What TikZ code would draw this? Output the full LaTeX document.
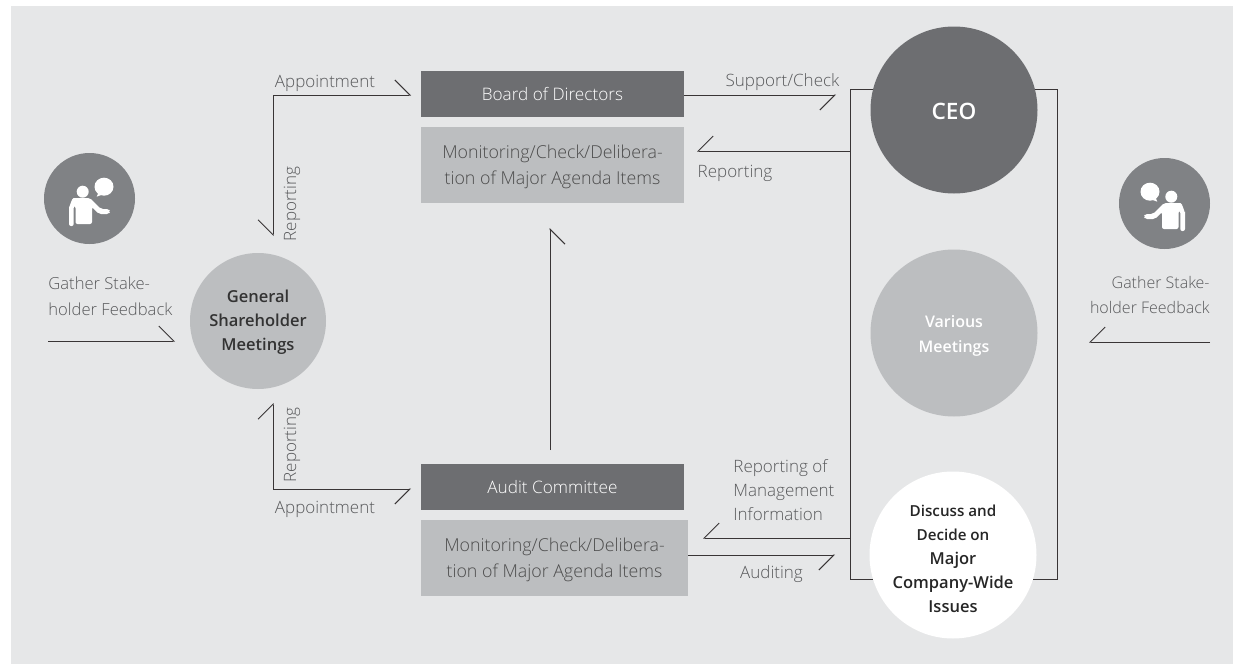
\documentclass[tikz,border=0pt]{standalone}
\usepackage{fontspec}
\setmainfont{Open Sans Light}[BoldFont={Open Sans Semibold}]
\usetikzlibrary{arrows.meta}
\definecolor{bgcol}{HTML}{E6E7E8}
\definecolor{darkcol}{HTML}{6D6E71}
\definecolor{lightcol}{HTML}{BCBEC0}
\definecolor{iconcol}{HTML}{808285}
\definecolor{inkcol}{HTML}{231F20}
\definecolor{labcol}{HTML}{58595B}
\newcommand{\topgap}[1]{\rule{0pt}{#1}}
\tikzset{
	ball/.style={circle,inner sep=-6pt,align=center,font=\bfseries\fontsize{8.25}{12}\selectfont},
	bar/.style={inner sep=0pt,minimum height=23pt,fill=darkcol,text=white,text height=7.5pt,text depth=1pt,font=\fontsize{8.6}{12}\selectfont},
	panel/.style={inner sep=0pt,minimum height=38pt,fill=lightcol,text=black!70,align=center,font=\fontsize{8.9}{13}\selectfont},
	lab/.style={inner sep=0pt,text=labcol,font=\fontsize{8.5}{12}\selectfont},
	conn/.style={color=inkcol!90,line width=0.5pt},
	hookL/.style={-{Straight Barb[left,length=7.5pt,width=15pt]}},
	hookR/.style={-{Straight Barb[right,length=7.5pt,width=15pt]}},
	pics/speaker/.style={code={
		\fill[iconcol] (0,0) circle (45.5);
		\fill[white] (-6.8,-6.8) circle (6);
		\fill[white] (14.5,-11.8) ellipse (9.5 and 9);
		\fill[white] (9,-6) -- (7.2,-1.8) -- (13,-4) -- cycle;
		\fill[white,rounded corners=1pt] (-20.5,27.5) -- (-20.5,7) to[out=-90,in=180] (-14,-0.5) -- (0.5,-0.5)
			-- (11.5,10.5) -- (19.5,10.5) -- (21,13) -- (19.5,15.5) -- (9.5,15.5) -- (2.5,8.5) -- (2.5,25.5)
			-- (-14,25.5) -- (-14,7.5) -- (-15.8,7.5) -- (-15.8,27.5) -- cycle;
	}}
}
\begin{document}
\begin{tikzpicture}[x=0.5pt,y=-0.5pt]
	\useasboundingbox (0,0) rectangle (1233,664);
	\fill[bgcol] (11,6) rectangle (1233,664);

	% frame behind the three circles
	\node[draw=inkcol!90,line width=0.5pt,inner sep=0pt,minimum width=103.5pt,minimum height=245pt] (frame) at (953.5,334) {};

	\node[ball,fill=darkcol,text=white,minimum size=83.5pt,text height=9.2pt,font=\bfseries\fontsize{11.3}{12}\selectfont] (ceo) at (954,110) {CEO};
	\node[ball,fill=lightcol,text=white,minimum size=83.5pt,font=\bfseries\fontsize{8}{12.5}\selectfont] (meet) at (954,333) {\topgap{9.3pt}Various\\Meetings};
	\node[ball,fill=white,text=black!85,minimum size=83.5pt] (issues) at (953,555) {\topgap{9.5pt}{\fontsize{7.6}{12}\selectfont Discuss and}\\{\fontsize{7.6}{12}\selectfont Decide on}\\Major\\Company-Wide\\Issues};
	\node[ball,fill=lightcol,text=black!80,minimum size=68pt] (gsm) at (258,321) {\topgap{7.5pt}General\\Shareholder\\Meetings};

	\node[bar,minimum width=131.5pt] (board) at (552.5,94) {Board of Directors};
	\node[panel,minimum width=131.5pt] (boardtxt) at (552.5,165) {\topgap{8.8pt}Monitoring/Check/Delibera-\\tion of Major Agenda Items};
	\node[bar,minimum width=131.5pt] (audit) at (552.5,487) {Audit Committee};
	\node[panel,minimum width=133.5pt] (audittxt) at (554.5,558) {\topgap{8.8pt}Monitoring/Check/Delibera-\\tion of Major Agenda Items};

	\pic at (89.5,198.5) {speaker};
	\pic[xscale=-1] at (1164.5,203.5) {speaker};

	\coordinate (topcorner) at (273,95);
	\coordinate (topend) at (411,95);
	\coordinate (downend) at (273,236);
	\coordinate (upend) at (273,403);
	\coordinate (lowcorner) at (273,489);
	\coordinate (lowend) at (411,489);
	\coordinate (leftstart) at (48,341);
	\coordinate (leftend) at (175,341);
	\coordinate (rightstart) at (1210,342);
	\coordinate (rightend) at (1089,342);
	\coordinate (supend) at (836,95);
	\coordinate (repend) at (697,151);
	\coordinate (infoend) at (703,538);
	\coordinate (audend) at (835,555);
	\coordinate (midstart) at (550,450);
	\coordinate (midend) at (550,228);

	\draw[conn,hookL] (topcorner) -- (topend);
	\draw[conn,hookR] (topcorner) -- (downend);
	\draw[conn,hookL] (lowcorner) -- (upend);
	\draw[conn,hookR] (lowcorner) -- (lowend);
	\draw[conn,hookL] (leftstart) -- (leftend);
	\draw[conn,hookR] (rightstart) -- (rightend);
	\draw[conn,hookR] (board.east |- supend) -- (supend);
	\draw[conn,hookR] (frame.west |- repend) -- (repend);
	\draw[conn,hookR] (frame.west |- infoend) -- (infoend);
	\draw[conn,hookR] (audittxt.east |- audend) -- (audend);
	\draw[conn,hookR] (midstart) -- (midend);

	\node[lab] (apptop) at (325,83) {Appointment};
	\node[lab] (applow) at (325,509) {Appointment};
	\node[lab,rotate=90] (reptop) at (292,204) {Reporting};
	\node[lab,rotate=90] (replow) at (292,445) {Reporting};
	\node[lab] (supcheck) at (782.5,82) {Support/Check};
	\node[lab] (repboard) at (735,173) {Reporting};
	\node[lab,anchor=west,align=left] (repinfo) at (733,490) {Reporting of\\Management\\Information};
	\node[lab] (auditing) at (771.5,574) {Auditing};
	\node[lab,anchor=west,align=left,font=\fontsize{8.3}{13}\selectfont] (gatherl) at (48,296) {Gather Stake-\\holder Feedback};
	\node[lab,anchor=east,align=right,font=\fontsize{8}{12.5}\selectfont] (gatherr) at (1210,295) {Gather Stake-\\holder Feedback};
\end{tikzpicture}
\end{document}
